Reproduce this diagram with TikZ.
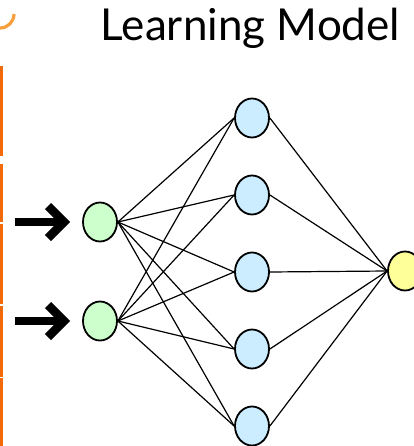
\documentclass[tikz,border=0pt]{standalone}
\usepackage{fontspec}
\setmainfont{Lato}
\usetikzlibrary{shapes.geometric,calc}
\definecolor{ingreen}{HTML}{CCFFCC}
\definecolor{hidblue}{HTML}{CCECFF}
\definecolor{outyellow}{HTML}{FFFF99}
\definecolor{barorange}{HTML}{F26A0A}
\definecolor{arcorange}{HTML}{F9A03C}
\begin{document}
\begin{tikzpicture}[x=1pt,y=-1pt,
  neuron/.style={ellipse,draw=black,line width=1.8pt,inner sep=0pt,minimum width=34pt,minimum height=39pt},
  inneuron/.style={neuron,fill=ingreen},
  hidneuron/.style={neuron,fill=hidblue},
  outneuron/.style={neuron,fill=outyellow},
  link/.style={line width=1.2pt,black},
  bigarrow/.style={line width=8.5pt,black},
  bar/.style={fill=barorange,draw=none}]
\useasboundingbox (0,0) rectangle (413,446);
% title
\node[font=\fontsize{44}{50}\selectfont,anchor=base] (title) at (250.5,41) {Learning Model};
% orange decorations at the left
\draw[arcorange,line width=3.2pt] (0,28) arc[start angle=90,end angle=0,radius=14];
\fill[bar] (0,66) rectangle (3.3,156);
\fill[bar] (0,164) rectangle (3.3,222);
\fill[bar] (0,224) rectangle (3.3,304);
\fill[bar] (0,306) rectangle (3.3,377);
\fill[bar] (0,378) rectangle (3.3,446);
% neurons
\node[inneuron] (i1) at (100,222) {};
\node[inneuron] (i2) at (100,321) {};
\node[hidneuron] (h1) at (252,118) {};
\node[hidneuron] (h2) at (252,195) {};
\node[hidneuron] (h3) at (252,272) {};
\node[hidneuron] (h4) at (252,349) {};
\node[hidneuron] (h5) at (252,426) {};
\node[outneuron] (o) at (405,271) {};
% input arrows
\coordinate (a1s) at (15,222);
\coordinate (a2s) at (15,321);
\draw[bigarrow] (a1s) -- ++(45,0);
\draw[bigarrow,miter limit=10] ($(a1s)+(33,-16)$) -- ++(16,16) -- ++(-16,16);
\draw[bigarrow] (a2s) -- ++(45,0);
\draw[bigarrow,miter limit=10] ($(a2s)+(33,-16)$) -- ++(16,16) -- ++(-16,16);
% connections
\foreach \i in {i1,i2}{
  \foreach \h in {h1,h2,h3,h4,h5}{
    \draw[link] (\i.east) -- (\h.west);
  }
}
\foreach \h in {h1,h2,h3,h4,h5}{
  \draw[link] (\h.east) -- (o.west);
}
\end{tikzpicture}
\end{document}
